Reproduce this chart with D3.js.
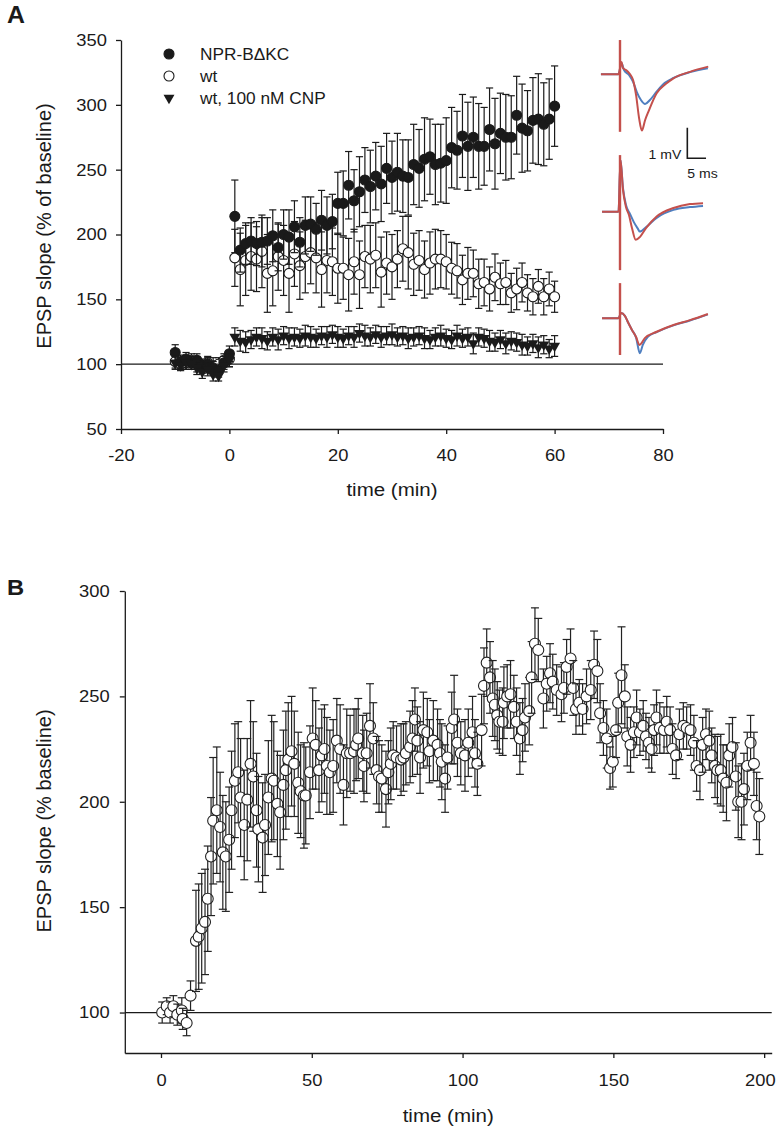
<!DOCTYPE html>
<html><head><meta charset="utf-8">
<script src="https://cdn.jsdelivr.net/npm/d3@7"></script>
<style>body{margin:0;background:#fff}</style>
</head><body><div id="chart"></div>
<script>
// ---------------- Panel A data ----------------
const seriesNames = ["NPR-B\u0394KC", "wt", "wt, 100 nM CNP"];
const timeBaseA = [-10,-9,-8,-7,-6,-5,-4,-3,-2,-1,0];
const timePostA = d3.range(1, 61);
const nprBase = [109,102,104,101,103,99,100,97,95,101,108];
const nprPost = [214,188,193,195,193,194,195,199,190,200,198,206,194,207,208,204,211,207,210,224,
                 224,238,226,233,242,237,245,239,251,244,248,245,244,254,251,258,260,254,255,257,
                 267,265,276,268,275,268,268,281,270,278,275,275,292,282,280,288,289,285,289,299];
const nprErrBase = [6,5,5,5,5,5,5,5,5,5,6];
const nprErrPost = [28,17,16,18,17,19,18,20,18,19,21,20,19,22,21,20,23,22,21,24,
                    25,26,24,27,25,28,26,29,27,28,30,28,29,31,30,32,29,31,30,33,
                    31,30,32,34,31,33,30,32,35,31,33,32,30,34,31,33,35,32,31,31];
const wtBase = [102,100,101,103,100,98,101,99,100,103,104];
const wtPost = [182,173,180,183,181,187,170,172,183,180,170,185,176,183,186,182,173,180,179,174,
                174,169,179,169,183,181,184,171,178,175,181,189,186,177,180,173,178,181,181,179,
                174,172,165,170,170,162,163,158,167,162,163,155,158,163,155,152,160,152,158,152];
const wtErrBase = [5,4,5,5,6,5,5,6,5,5,6];
const wtErrPost = [22,28,27,26,25,28,30,27,26,27,30,25,26,28,24,27,29,25,26,27,
                   24,28,25,26,24,26,25,27,24,25,22,25,28,24,23,22,24,23,22,21,
                   20,21,19,20,18,19,18,17,18,16,17,15,16,15,14,14,13,14,13,12];
const cnpBase = [101,99,101,100,97,94,96,92,91,99,103];
const cnpPost = [121,118,117,119,121,120,118,121,119,122,120,121,120,122,121,120,122,121,123,121,
                 120,122,121,124,122,121,123,121,122,123,121,122,120,121,122,120,119,121,122,120,
                 119,122,120,121,116,121,120,118,117,119,116,118,117,115,114,116,113,115,112,114];
const cnpErrBase = [5,4,5,4,5,5,5,5,4,5,5];
const cnpErrPost = [7,8,8,7,7,8,7,7,8,7,8,7,7,8,8,7,7,8,7,8,
                    7,7,8,7,8,7,7,8,7,8,7,7,8,7,7,8,7,7,8,7,
                    7,8,7,7,8,7,7,8,7,7,8,7,7,8,7,7,8,7,7,8];
const xTicksA = [-20,0,20,40,60,80];
const yTicksA = [50,100,150,200,250,300,350];

// EPSP traces (ms after stimulus, mV relative to baseline)
const trace1Red  = [[-5.1,0],[-0.4,0],[0.4,0.4],[0.8,0.2],[1.6,0.14],[2.7,0],[3.5,-0.19],[4.3,-0.68],[5.1,-1.43],[5.85,-1.84],[6.7,-1.5],[7.6,-1.22],[9.8,-0.62],[12.2,-0.32],[14.3,-0.13],[18.7,0.08],[23.6,0.25]];
const trace1Blue = [[-5.1,0],[-0.4,0],[0.4,0.37],[1.07,0.14],[2.4,-0.02],[3.5,-0.25],[4.5,-0.58],[5.6,-0.84],[6.7,-0.97],[8,-0.84],[9.9,-0.55],[12,-0.28],[14.3,-0.12],[18.7,0.07],[23.5,0.2]];
const trace2Red  = [[-4.8,0],[-0.4,0],[0.13,1.69],[0.8,0.71],[1.6,0.15],[2.4,-0.11],[3.2,-0.53],[4.2,-0.92],[5.3,-0.83],[7,-0.53],[9.8,-0.16],[14.3,0.12],[18.7,0.25],[22.2,0.28]];
const trace2Blue = [[-4.8,0],[-0.4,0],[0.13,1.69],[0.8,0.77],[1.6,0.22],[2.7,-0.08],[3.7,-0.34],[4.8,-0.56],[5.3,-0.65],[7,-0.5],[9.8,-0.2],[14.3,0.06],[18.7,0.15],[22.2,0.19]];
const trace3Red  = [[-4.8,0],[-0.4,0],[0.27,0.17],[1.3,0.08],[2.1,-0.12],[3.2,-0.38],[4.3,-0.61],[5.2,-0.87],[6.7,-0.64],[9.8,-0.44],[14.3,-0.22],[18.7,-0.06],[23.5,0.14]];
const trace3Blue = [[-4.8,0],[-0.4,0],[0.27,0.17],[1.3,0.08],[2.1,-0.12],[3.2,-0.38],[4.3,-0.63],[5.3,-1.14],[6.1,-0.87],[7.5,-0.6],[9.8,-0.45],[14.3,-0.23],[18.7,-0.07],[23.5,0.13]];
const artifactRange = [[1.12,-1.88],[1.85,-1.91],[1.15,-1.2]];

// ---------------- Panel B data ----------------
const timeB = [0.4,1.9,3,4.1,5.4,6.9,7.2,8.5,9.8,11.6,
 12.5,13.5,14.6,15.5,16.6,17.3,18.5,19.6,20.5,21.5,
 22.6,23.4,24.5,25.6,26.4,27.6,28.6,29.7,30.6,31.7,
 32.3,33.7,34.5,35.6,36.7,37.4,38.6,39.5,40.6,41.4,
 42.2,43.3,44.2,45.5,46.3,47.4,48,49.4,50.3,51.3,
 52.4,53.3,54.2,55,56,57.1,58.3,59.4,60.5,61.6,
 62.7,64,64.7,65.4,66.9,67.3,68.2,69.3,70.4,71.5,
 72.3,73.2,74.6,75.4,76.2,77,78.1,79.6,80.4,81.2,
 82.6,83.4,84.2,85,85.9,87,88.3,89,90.3,91.7,
 92.5,93.1,94.2,95,96.4,97.2,98.3,99.4,100.8,101.9,
 103.3,104.1,104.9,106.3,107.1,108,109.1,110,110.7,111.5,
 112.2,113.3,113.7,114.8,115.9,117,117.9,119,119.9,120.7,
 122.1,122.9,124,125.1,126.8,127.9,129,129.9,131.2,132.8,
 133.6,134.5,135.8,136.7,137.6,138.7,139.8,141.1,142.5,143.6,
 144.7,145.6,146.7,147.8,148.9,149.8,150.9,151.6,152.7,153.8,
 154.6,155.7,156.8,157.7,158.8,159.9,160.8,161.8,162.7,163.5,
 164.3,165.4,166.8,167.7,168.8,169.6,170.8,171.9,173.2,174.3,
 175.6,176.7,177.6,178.7,179.6,180.7,181.8,182.6,183.7,184.5,
 185.6,186.4,187.5,188.4,189.5,190.6,191.4,192.5,193.3,194.4,
 195.5,196.6,197.5,198.4];
const valB = [100,103,100,103,99,101,97,95,108,134,
 136,140,143,154,174,191,196,188,176,174,
 182,196,210,214,202,189,201,218,212,196,
 187,183,189,202,211,210,199,195,208,215,
 220,224,218,209,205,203,203,214,230,227,
 215,222,225,217,214,217,229,225,208,223,
 223,224,227,230,223,217,223,236,230,215,
 212,211,206,214,218,222,221,220,221,223,
 226,230,239,229,221,234,233,224,229,227,
 223,219,211,221,235,239,228,223,222,228,
 233,223,218,234,255,266,259,249,246,241,
 238,238,247,250,251,245,238,230,234,240,
 243,259,275,272,249,256,261,257,253,251,
 254,264,268,254,244,247,244,250,253,265,
 262,242,235,230,216,219,234,247,260,250,
 231,227,233,240,233,236,231,228,225,234,
 240,235,234,238,234,225,222,232,236,235,
 234,228,217,215,227,232,229,222,217,215,
 215,211,209,222,226,212,200,200,206,217,
 228,218,198,193];
const errB = [5,4,5,5,5,6,5,6,7,24,
 25,26,25,25,28,30,30,26,27,26,
 25,28,27,24,28,26,29,30,26,27,
 25,26,24,27,30,28,25,27,26,28,
 27,26,25,24,22,25,23,22,24,21,
 20,22,21,23,20,22,20,21,19,21,
 18,20,17,19,18,17,19,20,17,16,
 17,16,18,15,17,16,15,17,16,15,
 17,18,15,16,17,18,16,15,19,17,
 16,18,16,15,17,21,16,15,17,16,
 17,16,15,17,18,16,17,18,17,16,
 15,16,17,15,16,15,16,17,15,16,
 16,17,17,15,14,13,14,13,12,13,
 12,13,14,13,12,11,12,13,14,16,
 15,14,13,14,10,12,13,14,23,15,
 14,13,12,13,11,12,11,12,11,12,
 13,12,11,12,11,12,11,12,11,10,
 12,13,12,14,13,12,14,13,15,16,
 17,16,18,15,14,16,17,18,17,16,
 13,15,16,18];
const xTicksB = [0,50,100,150,200];
const yTicksB = [100,150,200,250,300];

// ---------------- Drawing ----------------
const W = 778, H = 1136, SX = 1.08;
const FONT = '"Liberation Sans", Arial, Helvetica, sans-serif';
const INK = '#1a1a1a';
const plainFmt = d => String(d);   // hyphen-minus like the original
const svg = d3.select('#chart').append('svg').attr('width', W).attr('height', H)
  .style('font-family', FONT);
svg.append('rect').attr('width', W).attr('height', H).attr('fill', '#fff');

function addText(g, x, y, str, size, anchor = 'start', weight = 'normal') {
  return g.append('text').attr('transform', `translate(${x},${y}) scale(${SX},1)`)
    .attr('text-anchor', anchor).attr('font-size', size).attr('font-weight', weight)
    .attr('fill', INK).text(str);
}
function styleAxis(g, fs) {
  g.select('.domain').attr('stroke', INK).attr('stroke-width', 1.3);
  g.selectAll('.tick line').attr('stroke', INK).attr('stroke-width', 1.3);
  g.selectAll('.tick text').attr('font-size', fs).attr('fill', INK)
    .attr('font-family', FONT).attr('transform', `scale(${SX},1)`);
}
function errBar(g, x, y, yTop, yBot, cap, col, sw) {
  g.append('line').attr('x1', x).attr('x2', x).attr('y1', yTop).attr('y2', yBot)
    .attr('stroke', col).attr('stroke-width', sw);
  g.append('line').attr('x1', x - cap).attr('x2', x + cap).attr('y1', yTop).attr('y2', yTop)
    .attr('stroke', col).attr('stroke-width', sw);
  g.append('line').attr('x1', x - cap).attr('x2', x + cap).attr('y1', yBot).attr('y2', yBot)
    .attr('stroke', col).attr('stroke-width', sw);
}

// ===== Panel A =====
const xA = d3.scaleLinear().domain([-20, 80]).range([121, 663]);
const yA = d3.scaleLinear().domain([50, 350]).range([429, 40]);
const gA = svg.append('g');

addText(gA, 7, 23, 'A', 23, 'start', 'bold');

gA.append('line').attr('x1', xA(-20)).attr('x2', xA(80)).attr('y1', yA(100)).attr('y2', yA(100))
  .attr('stroke', INK).attr('stroke-width', 1.2);

const axYA = gA.append('g').attr('transform', `translate(${xA(-20)},0)`)
  .call(d3.axisLeft(yA).tickValues(yTicksA).tickFormat(plainFmt).tickSize(5).tickPadding(8).tickSizeOuter(0));
styleAxis(axYA, 17);
const axXA = gA.append('g').attr('transform', `translate(0,${yA(50)})`)
  .call(d3.axisBottom(xA).tickValues(xTicksA).tickFormat(plainFmt).tickSize(5).tickPadding(15).tickSizeOuter(0));
styleAxis(axXA, 17);

addText(gA, (xA(-20) + xA(80)) / 2, 496, 'time (min)', 19, 'middle');
gA.append('text').attr('transform', `translate(51,${226}) rotate(-90)`)
  .attr('text-anchor', 'middle').attr('font-size', 20).attr('fill', INK)
  .text('EPSP slope (% of baseline)');

const triSym = d3.symbol().type(d3.symbolTriangle).size(52);
function drawA(times, vals, errs, kind) {
  const g = gA.append('g');
  times.forEach((t, i) => {
    const x = xA(t);
    errBar(g, x, yA(vals[i]), yA(vals[i] + errs[i]), yA(vals[i] - errs[i]), 3.6, INK, 1.2);
  });
  times.forEach((t, i) => {
    const x = xA(t), y = yA(vals[i]);
    if (kind === 'tri') {
      g.append('path').attr('d', triSym()).attr('transform', `translate(${x},${y}) rotate(180)`)
        .attr('fill', INK);
    } else {
      g.append('circle').attr('cx', x).attr('cy', y).attr('r', 5)
        .attr('fill', kind === 'filled' ? INK : '#fff').attr('stroke', INK).attr('stroke-width', 1.1);
    }
  });
}
drawA(timeBaseA, wtBase, wtErrBase, 'open');
drawA(timeBaseA, nprBase, nprErrBase, 'filled');
drawA(timeBaseA, cnpBase, cnpErrBase, 'tri');
drawA(timePostA, cnpPost, cnpErrPost, 'tri');
drawA(timePostA, wtPost, wtErrPost, 'open');
drawA(timePostA, nprPost, nprErrPost, 'filled');

// legend
const legY = [54, 76, 98];
const legKinds = ['filled', 'open', 'tri'];
legKinds.forEach((k, i) => {
  if (k === 'tri') {
    gA.append('path').attr('d', triSym()).attr('transform', `translate(169,${legY[i]}) rotate(180)`).attr('fill', INK);
  } else {
    gA.append('circle').attr('cx', 169).attr('cy', legY[i]).attr('r', 5)
      .attr('fill', k === 'filled' ? INK : '#fff').attr('stroke', INK).attr('stroke-width', 1.1);
  }
  addText(gA, 200, legY[i] + 5.5, seriesNames[i], 16, 'start');
});

// EPSP traces
const xT = d3.scaleLinear().domain([0, 5]).range([620, 638.7]);
const traceBases = [74.3, 211.7, 318.3];
const traceSets = [[trace1Blue, trace1Red], [trace2Blue, trace2Red], [trace3Blue, trace3Red]];
const BLUE = '#4f7fc0', RED = '#c4504c';
traceSets.forEach((pair, k) => {
  const yT = d3.scaleLinear().domain([0, 1]).range([traceBases[k], traceBases[k] - 30.6]);
  const line = d3.line().x(d => xT(d[0])).y(d => yT(d[1])).curve(d3.curveMonotoneX);
  gA.append('path').attr('d', line(pair[0])).attr('fill', 'none').attr('stroke', BLUE).attr('stroke-width', 2);
  gA.append('line').attr('x1', xT(0)).attr('x2', xT(0))
    .attr('y1', yT(artifactRange[k][0])).attr('y2', yT(artifactRange[k][1]))
    .attr('stroke', RED).attr('stroke-width', 2.4);
  gA.append('path').attr('d', line(pair[1])).attr('fill', 'none').attr('stroke', RED).attr('stroke-width', 2);
});
// scale bar
const ySB = d3.scaleLinear().domain([0, 1]).range([158.3, 127.7]);
gA.append('path').attr('d', `M${xT(18)},${ySB(1)}V${ySB(0)}H${xT(23)}`)
  .attr('fill', 'none').attr('stroke', INK).attr('stroke-width', 1.6);
addText(gA, xT(18) - 6, 159, '1 mV', 13, 'end');
addText(gA, xT(18), 178, '5 ms', 13, 'start');

// ===== Panel B =====
const xB = d3.scaleLinear().domain([-12, 202.5]).range([124.8, 771.7]);
const yB = d3.scaleLinear().domain([80.8, 300]).range([1053, 591]);
const gB = svg.append('g');

addText(gB, 7, 595, 'B', 22, 'start', 'bold');

gB.append('line').attr('x1', xB(-12)).attr('x2', xB(202.5)).attr('y1', yB(100)).attr('y2', yB(100))
  .attr('stroke', INK).attr('stroke-width', 1.2);

const axYB = gB.append('g').attr('transform', `translate(${xB(-12)},0)`)
  .call(d3.axisLeft(yB).tickValues(yTicksB).tickFormat(plainFmt).tickSize(5).tickPadding(9).tickSizeOuter(0));
styleAxis(axYB, 17);
const axXB = gB.append('g').attr('transform', `translate(0,${yB(80.8)})`)
  .call(d3.axisBottom(xB).tickValues(xTicksB).tickFormat(plainFmt).tickSize(5).tickPadding(16).tickSizeOuter(0));
styleAxis(axXB, 17);
// keep the last tick label inside the page
axXB.selectAll('.tick text').filter(d => d === 200).attr('x', -4);

addText(gB, (xB(-12) + xB(202.5)) / 2, 1122, 'time (min)', 19, 'middle');
gB.append('text').attr('transform', `translate(51,${821}) rotate(-90)`)
  .attr('text-anchor', 'middle').attr('font-size', 20).attr('fill', INK)
  .text('EPSP slope (% baseline)');

const gBpts = gB.append('g');
timeB.forEach((t, i) => {
  const x = xB(t), y = yB(valB[i]);
  const gp = gBpts.append('g');
  errBar(gp, x, y, yB(valB[i] + errB[i]), yB(valB[i] - errB[i]), 4, '#222', 1.2);
  gp.append('circle').attr('cx', x).attr('cy', y).attr('r', 5.5)
    .attr('fill', '#fff').attr('stroke', '#222').attr('stroke-width', 1.1);
});
</script>
</body></html>
